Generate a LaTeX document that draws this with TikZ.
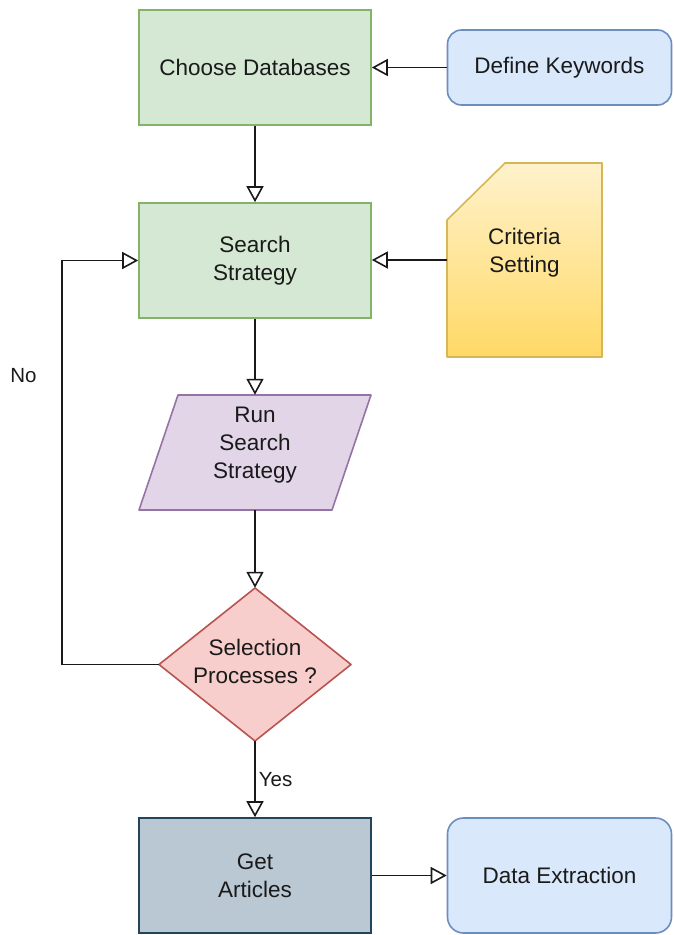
\documentclass[tikz,border=0pt]{standalone}
\usepackage{fontspec}
\setmainfont{Liberation Sans}
\usetikzlibrary{arrows.meta}
\definecolor{greenF}{HTML}{D5E8D4}
\definecolor{greenD}{HTML}{82B366}
\definecolor{blueF}{HTML}{DAE8FC}
\definecolor{blueD}{HTML}{6C8EBF}
\definecolor{yelT}{HTML}{FFF2CC}
\definecolor{yelB}{HTML}{FFD966}
\definecolor{yelD}{HTML}{D6B656}
\definecolor{purF}{HTML}{E1D5E7}
\definecolor{purD}{HTML}{9673A6}
\definecolor{redF}{HTML}{F8CECC}
\definecolor{redD}{HTML}{B85450}
\definecolor{slateF}{HTML}{BAC8D3}
\definecolor{slateD}{HTML}{23445D}
\definecolor{ink}{HTML}{1A1A1A}
\begin{document}
\begin{tikzpicture}[x=1pt, y=-1pt,
  txt/.style={font=\fontsize{22.5}{28}\selectfont, text=ink, align=center, inner sep=0},
  box/.style={txt, draw, line width=1.6pt, minimum width=232pt, minimum height=115pt},
  anchorbox/.style={draw=none, inner sep=0, minimum width=#1},
  shapeline/.style={line width=1.6pt},
  lbl/.style={font=\fontsize{20.5}{24}\selectfont, text=ink, inner sep=3pt},
  arr/.style={draw=ink, line width=1.8pt,
    -{Triangle[length=16pt, width=17pt, fill=white, line width=1.6pt]}}]
\useasboundingbox (0,0) rectangle (673,935);

% rectangular process boxes
\node[box, fill=greenF, draw=greenD] (choose) at (255,67.5) {Choose Databases};
\node[box, fill=blueF, draw=blueD, rounded corners=14pt,
      minimum width=224pt, minimum height=75pt] (keys) at (559.5,67.5) {Define Keywords};
\node[box, fill=greenF, draw=greenD] (search) at (255,260.5) {Search\\Strategy};
\node[box, fill=slateF, draw=slateD] (get) at (255,875.5) {Get\\Articles};
\node[box, fill=blueF, draw=blueD, rounded corners=16pt,
      minimum width=224pt] (extract) at (559.5,875.5) {Data Extraction};

% card with clipped corner and vertical gradient
\shade[top color=yelT, bottom color=yelB]
  (447,220) -- (505,163) -- (602,163) -- (602,357) -- (447,357) -- cycle;
\draw[yelD, shapeline, line join=round]
  (447,220) -- (505,163) -- (602,163) -- (602,357) -- (447,357) -- cycle;
\node[anchorbox=155pt, minimum height=194pt] (crit) at (524.5,260) {};
\node[txt] (critText) at (524.5,253) {Criteria\\Setting};

% parallelogram (input/output)
\filldraw[fill=purF, draw=purD, shapeline, line join=round]
  (178,395) -- (371,395) -- (332,510) -- (139,510) -- cycle;
\node[anchorbox=232pt, minimum height=115pt] (run) at (255,452.5) {};
\node[txt] (runText) at (255,445) {Run\\Search\\Strategy};

% decision diamond
\filldraw[fill=redF, draw=redD, shapeline, line join=round]
  (255,588) -- (351,664.5) -- (255,741) -- (159,664.5) -- cycle;
\node[anchorbox=192pt, minimum height=153pt] (sel) at (255,664.5) {};
\node[txt] (selText) at (255,661) {Selection\\Processes ?};

% connectors
\coordinate (loopx) at (62,0);
\draw[arr] (keys.west) -- (choose.east);
\draw[arr] (choose) -- (search);
\draw[arr] (crit.west) -- (search.east |- crit.west);
\draw[arr] (search) -- (run);
\draw[arr] (run) -- (sel);
\draw[arr] (sel.west) -- (sel.west -| loopx) |- (search.west);
\draw[arr] (sel.south) -- node[lbl, right] (yes) {Yes} (get.north);
\draw[arr] (get) -- (extract);

\node[lbl] (no) at (23.5,376) {No};
\end{tikzpicture}
\end{document}
